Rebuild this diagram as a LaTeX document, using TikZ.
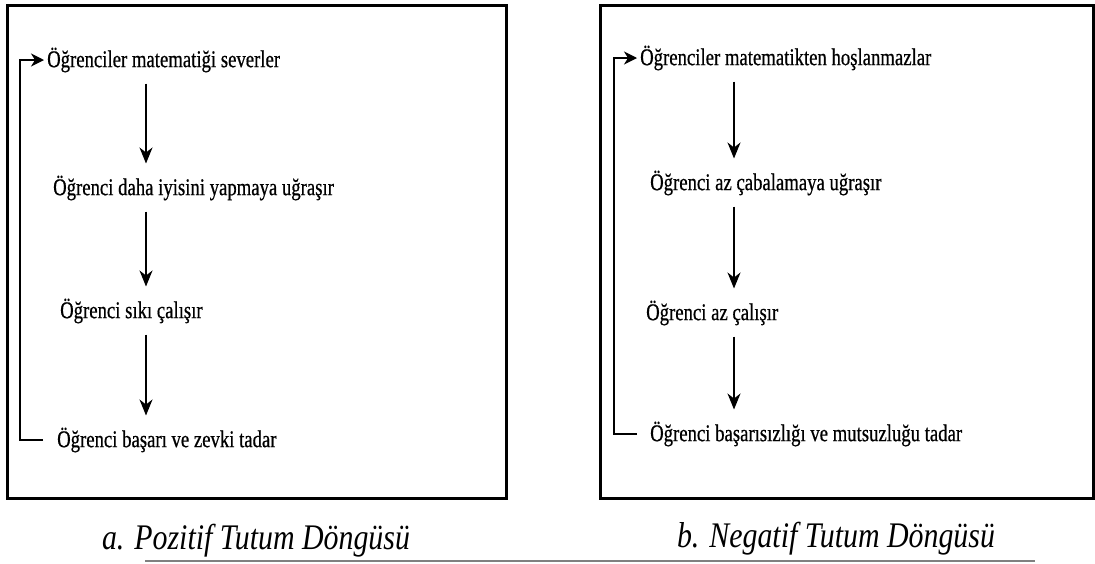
\documentclass[tikz,border=0pt]{standalone}
\usepackage{fontspec}
\setmainfont{Liberation Serif}
\newfontfamily\boxfont[FakeStretch=0.78, FakeBold=0.6]{Liberation Serif}
\newfontfamily\capfont[FakeStretch=0.83]{Liberation Serif}
\usetikzlibrary{arrows.meta}
\tikzset{
	stepnode/.style={anchor=west, inner sep=0pt, font=\boxfont\fontsize{24}{28}\selectfont},
	flow/.style={line width=1.3pt, -{Stealth[length=16pt, width=13pt, inset=5pt]}},
	loopline/.style={line width=1.3pt, -{Stealth[length=13pt, width=13pt, inset=4pt]}},
	frame/.style={line width=3pt},
	caption/.style={font=\capfont\itshape\fontsize{36}{40}\selectfont, inner sep=0pt}
}

\begin{document}
\begin{tikzpicture}[x=1pt, y=-1pt]
	\useasboundingbox (0,0) rectangle (1095,563);
	% drawing frames
	\draw[frame] (7,5) rectangle (506,498);
	\draw[frame] (600,5) rectangle (1093,498);
	% scan edge at bottom
	\draw[gray, line width=2pt] (145,561) -- (1035,561);
	% left cycle
	\node[stepnode] (a1) at (47,60) {Öğrenciler matematiği severler};
	\node[stepnode] (a2) at (53,188) {Öğrenci daha iyisini yapmaya uğraşır};
	\node[stepnode] (a3) at (60,311) {Öğrenci sıkı çalışır};
	\node[stepnode] (a4) at (57,440) {Öğrenci başarı ve zevki tadar};
	\coordinate (ax) at (146,0);
	\draw[flow, shorten <=11pt, shorten >=12pt] (a1.south -| ax) -- (a2.north -| ax);
	\draw[flow, shorten <=11pt, shorten >=12pt] (a2.south -| ax) -- (a3.north -| ax);
	\draw[flow, shorten <=11pt, shorten >=12pt] (a3.south -| ax) -- (a4.north -| ax);
	% feedback line
	\draw[loopline, shorten <=14pt, shorten >=3pt] (a4.west) -- ++(-37,0) |- (a1.west);
	% right cycle
	\node[stepnode] (b1) at (640,58) {Öğrenciler matematikten hoşlanmazlar};
	\node[stepnode] (b2) at (650,183) {Öğrenci az çabalamaya uğraşır};
	\node[stepnode] (b3) at (646,313) {Öğrenci az çalışır};
	\node[stepnode] (b4) at (650,434) {Öğrenci başarısızlığı ve mutsuzluğu tadar};
	\coordinate (bx) at (734,0);
	\draw[flow, shorten <=11pt, shorten >=12pt] (b1.south -| bx) -- (b2.north -| bx);
	\draw[flow, shorten <=11pt, shorten >=12pt] (b2.south -| bx) -- (b3.north -| bx);
	\draw[flow, shorten <=11pt, shorten >=12pt] (b3.south -| bx) -- (b4.north -| bx);
	% feedback line
	\draw[loopline, shorten <=13pt, shorten >=3pt] (b4.west) -- ++(-36,0) |- (b1.west);
	% captions
	\node[caption] (ca) at (256,541) {a. Pozitif Tutum Döngüsü};
	\node[caption] (cb) at (836,539) {b. Negatif Tutum Döngüsü};
\end{tikzpicture}
\end{document}
